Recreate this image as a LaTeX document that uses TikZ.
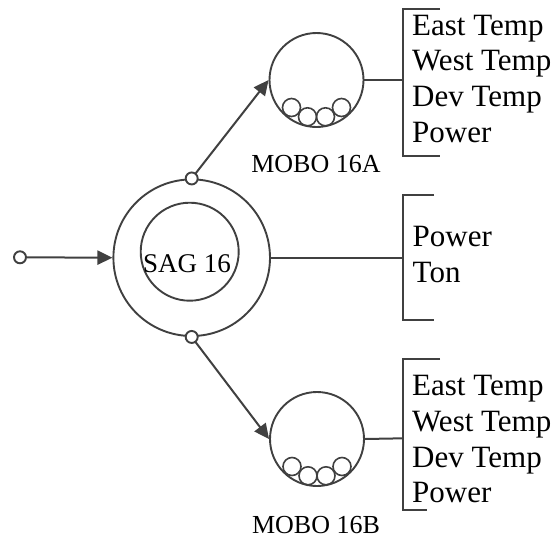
\documentclass[tikz,border=0pt]{standalone}
\usepackage{fontspec}
\setmainfont{Liberation Serif}
\usetikzlibrary{arrows.meta,calc}
\definecolor{ln}{HTML}{404040}
\begin{document}
\begin{tikzpicture}[x=1pt,y=-1pt,
  ring/.style={circle,draw=ln,line width=1.9pt,inner sep=0pt},
  port/.style={circle,draw=ln,line width=1.9pt,fill=white,inner sep=0pt,minimum size=12pt},
  ball/.style={circle,draw=ln,line width=1.6pt,inner sep=0pt,minimum size=18pt},
  conn/.style={draw=ln,line width=2pt},
  arr/.style={conn,-{Triangle[length=15pt,width=14pt]}},
  brk/.style={draw=ln,line width=2pt},
  btxt/.style={anchor=base west,inner sep=0pt,font=\fontsize{31}{36}\selectfont},
  lbl/.style={anchor=base,inner sep=0pt,font=\fontsize{26}{30}\selectfont}]
\useasboundingbox (0,0) rectangle (557,539);
% SAG
\node[ring,minimum size=156.6pt] (sag) at (191.7,257.7) {};
\node[ring,minimum size=98pt] (sagin) at (189.7,251.7) {};
\node[anchor=base,inner sep=0pt,font=\fontsize{27}{30}\selectfont] (sagt) at (187,272.7) {SAG 16};
% MOBO A
\node[ring,minimum size=94pt] (moboA) at (316.5,80) {};
\foreach \i/\dx/\dy in {1/-25/27.5,2/-9/36.8,3/9/36.8,4/25/27.5}
  \node[ball] (ballA\i) at ($(316.5,80)+(\dx,\dy)$) {};
\node[lbl] (lblA) at (316,172.3) {MOBO 16A};
% MOBO B
\node[ring,minimum size=94pt] (moboB) at (317,439) {};
\foreach \i/\dx/\dy in {1/-25/27.5,2/-9/36.8,3/9/36.8,4/25/27.5}
  \node[ball] (ballB\i) at ($(317,439)+(\dx,\dy)$) {};
\node[lbl] (lblB) at (316,533) {MOBO 16B};
% input
\node[port] (in) at (20,257.3) {};
\draw[arr] (in) -- (sag.west);
% ports
\draw[arr] (sag.north) -- (moboA.west);
\draw[arr] (sag.south) -- (moboB.west);
\node[port] (portA) at (sag.north) {};
\node[port] (portB) at (sag.south) {};
% brackets
\coordinate (bA) at (403.3,80);
\coordinate (bM) at (403.3,257.7);
\coordinate (bB) at (403.3,438.3);
\draw[conn] (moboA.east) -- (bA);
\draw[conn] (sag.east) -- (bM);
\draw[conn] (moboB.east) -- (bB);
\draw[brk] (440,9.3) -- (403.3,9.3) -- (403.3,156) -- (440,156);
\draw[brk] (434,195) -- (403.3,195) -- (403.3,320) -- (434,320);
\draw[brk] (440,359.3) -- (403.3,359.3) -- (403.3,510) -- (427,510);
% texts
\node[btxt] (a1) at (412,35) {East Temp};
\node[btxt] (a2) at (412,70.7) {West Temp};
\node[btxt] (a3) at (412,106.4) {Dev Temp};
\node[btxt] (a4) at (412,142) {Power};
\node[btxt] (m1) at (412.5,246) {Power};
\node[btxt] (m2) at (412.5,282.3) {Ton};
\node[btxt] (b1) at (412,395) {East Temp};
\node[btxt] (b2) at (412,431) {West Temp};
\node[btxt] (b3) at (412,467) {Dev Temp};
\node[btxt] (b4) at (412,502) {Power};
\end{tikzpicture}
\end{document}
